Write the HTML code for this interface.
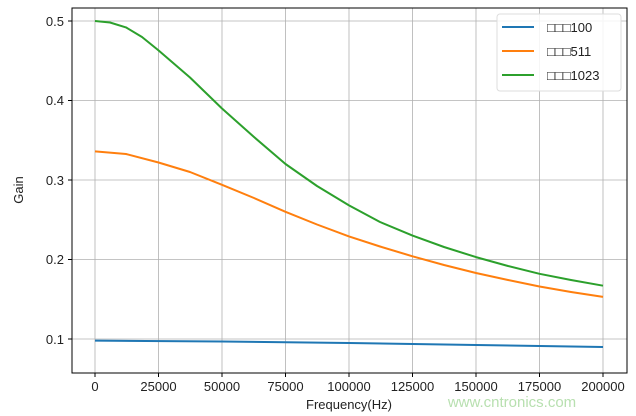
<!DOCTYPE html>
<html><head><style>body{margin:0;background:#fff}svg{display:block}text{font-family:"Liberation Sans","DejaVu Sans",sans-serif;fill:#222}</style></head><body>
<svg width="636" height="416" viewBox="0 0 636 416">
<g stroke="#b0b0b0" stroke-width="0.8">
<line x1="95" y1="8" x2="95" y2="373"/><line x1="158.5" y1="8" x2="158.5" y2="373"/><line x1="222" y1="8" x2="222" y2="373"/><line x1="285.5" y1="8" x2="285.5" y2="373"/><line x1="349" y1="8" x2="349" y2="373"/><line x1="412.5" y1="8" x2="412.5" y2="373"/><line x1="476" y1="8" x2="476" y2="373"/><line x1="539.5" y1="8" x2="539.5" y2="373"/><line x1="603" y1="8" x2="603" y2="373"/>
<line x1="72" y1="339" x2="627" y2="339"/><line x1="72" y1="259.5" x2="627" y2="259.5"/><line x1="72" y1="180" x2="627" y2="180"/><line x1="72" y1="100.5" x2="627" y2="100.5"/><line x1="72" y1="21" x2="627" y2="21"/>
</g>
<g fill="none" stroke-width="2" stroke-linejoin="round">
<polyline stroke="#1f77b4" points="95,340.6 222,341.5 349,343 476,345 603,347"/>
<polyline stroke="#ff7f0e" points="95,151.4 126,154 158.5,162.5 190,172 222,184.8 254,198 285.5,211.8 317,224.5 349,236.4 380,246.5 412.5,256.3 444,265 476,273 508,280 539.5,286.5 571,292 603,296.9"/>
<polyline stroke="#2ca02c" points="95,21 110,22.5 126,27.4 142,37 158.5,50.4 190,77.5 222,108.5 254,137 285.5,164 317,186 349,205.4 380,222 412.5,235.6 444,247 476,257.1 508,266 539.5,273.8 571,280 603,285.7"/>
</g>
<rect x="72" y="8" width="555" height="365" fill="none" stroke="#000" stroke-width="1"/>
<g stroke="#000"><line x1="68" y1="339" x2="72" y2="339"/><line x1="68" y1="259.5" x2="72" y2="259.5"/><line x1="68" y1="180" x2="72" y2="180"/><line x1="68" y1="100.5" x2="72" y2="100.5"/><line x1="68" y1="21" x2="72" y2="21"/>
<line x1="95" y1="373" x2="95" y2="377"/><line x1="158.5" y1="373" x2="158.5" y2="377"/><line x1="222" y1="373" x2="222" y2="377"/><line x1="285.5" y1="373" x2="285.5" y2="377"/><line x1="349" y1="373" x2="349" y2="377"/><line x1="412.5" y1="373" x2="412.5" y2="377"/><line x1="476" y1="373" x2="476" y2="377"/><line x1="539.5" y1="373" x2="539.5" y2="377"/><line x1="603" y1="373" x2="603" y2="377"/></g>
<g font-size="13" text-anchor="end"><text x="64" y="344">0.1</text><text x="64" y="264">0.2</text><text x="64" y="185">0.3</text><text x="64" y="105">0.4</text><text x="64" y="26">0.5</text></g>
<g font-size="13" text-anchor="middle"><text x="95" y="391">0</text><text x="158.5" y="391">25000</text><text x="222" y="391">50000</text><text x="285.5" y="391">75000</text><text x="349" y="391">100000</text><text x="412.5" y="391">125000</text><text x="476" y="391">150000</text><text x="539.5" y="391">175000</text><text x="603" y="391">200000</text>
<text x="349" y="409">Frequency(Hz)</text>
<text transform="translate(23,190) rotate(-90)">Gain</text></g>
<rect x="497" y="14" width="124" height="77" rx="3" fill="#fff" fill-opacity="0.85" stroke="#ddd"/>
<g stroke-width="2"><line x1="502" y1="27" x2="534" y2="27" stroke="#1f77b4"/><line x1="502" y1="51" x2="534" y2="51" stroke="#ff7f0e"/><line x1="502" y1="75" x2="534" y2="75" stroke="#2ca02c"/></g>
<g font-size="13"><text x="547" y="32">□□□100</text><text x="547" y="56">□□□511</text><text x="547" y="80">□□□1023</text></g>
<text x="512" y="407" font-size="15" text-anchor="middle" style="fill:#b8e0b0">www.cntronics.com</text>
</svg>
</body></html>
